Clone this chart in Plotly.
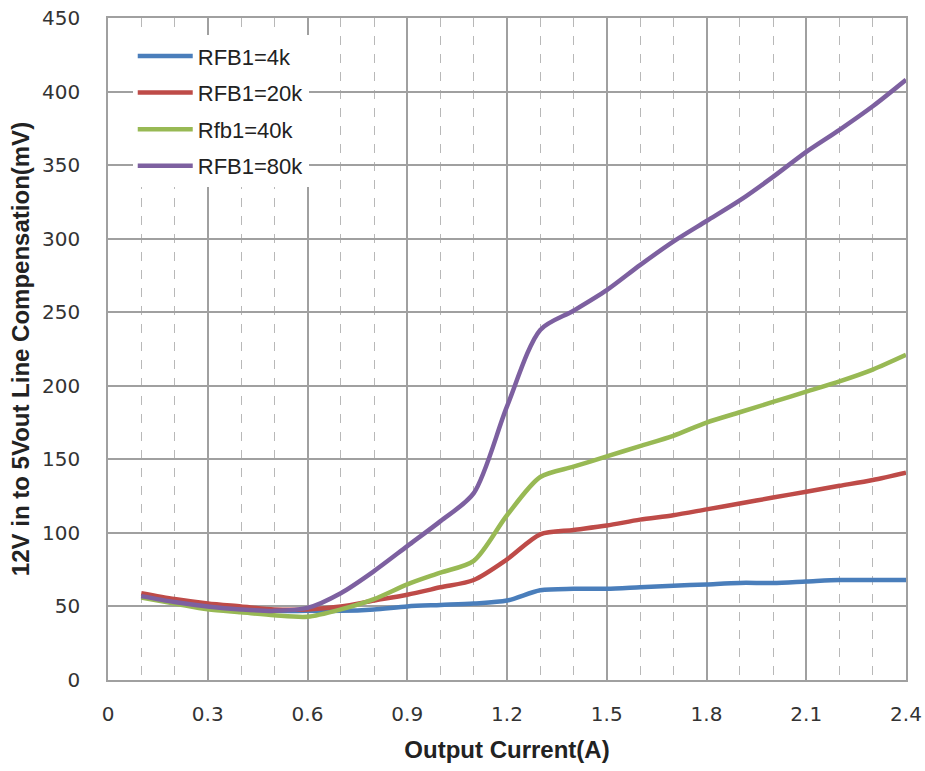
import plotly.graph_objects as go

current = [0.1, 0.2, 0.3, 0.4, 0.5, 0.6, 0.7, 0.8, 0.9, 1.0, 1.1, 1.2,
           1.3, 1.4, 1.5, 1.6, 1.7, 1.8, 1.9, 2.0, 2.1, 2.2, 2.3, 2.4]

rfb_4k = [57, 53, 50, 48, 47, 47, 47, 48, 50, 51, 52, 54,
          61, 62, 62, 63, 64, 65, 66, 66, 67, 68, 68, 68]
rfb_20k = [59, 55, 52, 50, 48, 48, 50, 54, 58, 63, 68, 82,
           99, 102, 105, 109, 112, 116, 120, 124, 128, 132, 136, 141]
rfb_40k = [56, 52, 48, 46, 44, 43, 48, 55, 65, 73, 81, 112,
           138, 145, 152, 159, 166, 175, 182, 189, 196, 203, 211, 221]
rfb_80k = [57, 53, 50, 48, 47, 49, 59, 74, 91, 108, 127, 186,
           238, 251, 265, 282, 298, 312, 326, 342, 359, 374, 390, 408]

names = ["RFB1=4k", "RFB1=20k", "Rfb1=40k", "RFB1=80k"]
colors = ["#4A7EBB", "#BE4B48", "#98B954", "#7D60A0"]
series = [rfb_4k, rfb_20k, rfb_40k, rfb_80k]

x_ticks = [0, 0.3, 0.6, 0.9, 1.2, 1.5, 1.8, 2.1, 2.4]
x_tick_labels = ["0", "0.3", "0.6", "0.9", "1.2", "1.5", "1.8", "2.1", "2.4"]

fig = go.Figure()
for i, (name, col, ys) in enumerate(zip(names, colors, series)):
    fig.add_trace(go.Scatter(
        x=current, y=ys, name=name, mode="lines", legendgroup=f"g{i}",
        line=dict(color=col, width=4.5, shape="spline", smoothing=0.8),
    ))

grid_col = "#A0A0A0"
fig.update_layout(
    width=925, height=771,
    paper_bgcolor="white", plot_bgcolor="white",
    margin=dict(l=108, r=19, t=18, b=91),
    font=dict(family="DejaVu Sans", size=20, color="#333333"),
    showlegend=True,
    legend=dict(
        x=0.031, y=0.974, xanchor="left", yanchor="top",
        bgcolor="rgba(255,255,255,1)",
        font=dict(family="Liberation Sans", size=22, color="#222222"),
        itemwidth=55, traceorder="grouped", tracegroupgap=5,
    ),
)
fig.update_xaxes(
    range=[0, 2.4], tickmode="array", tickvals=x_ticks, ticktext=x_tick_labels,
    showgrid=True, gridcolor=grid_col, gridwidth=1.5,
    minor=dict(dtick=0.1, tick0=0, showgrid=True, gridcolor="#B8B8B8",
               griddash="dash", gridwidth=1),
    showline=True, linecolor=grid_col, linewidth=1.5, mirror=True,
    ticks="", zeroline=False, automargin=False, ticklabelstandoff=15,
    ticklabeloverflow="allow",
    tickfont=dict(family="DejaVu Sans", size=20, color="#333333"),
    title=dict(text="<b>Output Current(A)</b>", standoff=16,
               font=dict(family="Liberation Sans", size=24, color="#222222")),
)
fig.update_yaxes(
    range=[0, 450], dtick=50, tick0=0,
    showgrid=True, gridcolor=grid_col, gridwidth=1.5,
    showline=True, linecolor=grid_col, linewidth=1.5, mirror=True,
    ticks="", zeroline=False, automargin=False, ticklabelstandoff=22,
    ticklabeloverflow="allow",
    tickfont=dict(family="DejaVu Sans", size=20, color="#333333"),
    title=dict(text="<b>12V in to 5Vout Line Compensation(mV)</b>", standoff=6,
               font=dict(family="Liberation Sans", size=24, color="#222222")),
)

# remove the browser's default 8px body margin so the 925x771 figure fills the window
fig.write_html(
    "out.html",
    config={"displayModeBar": False},
    post_script="document.body.style.margin='0';document.body.style.overflow='hidden';",
)
